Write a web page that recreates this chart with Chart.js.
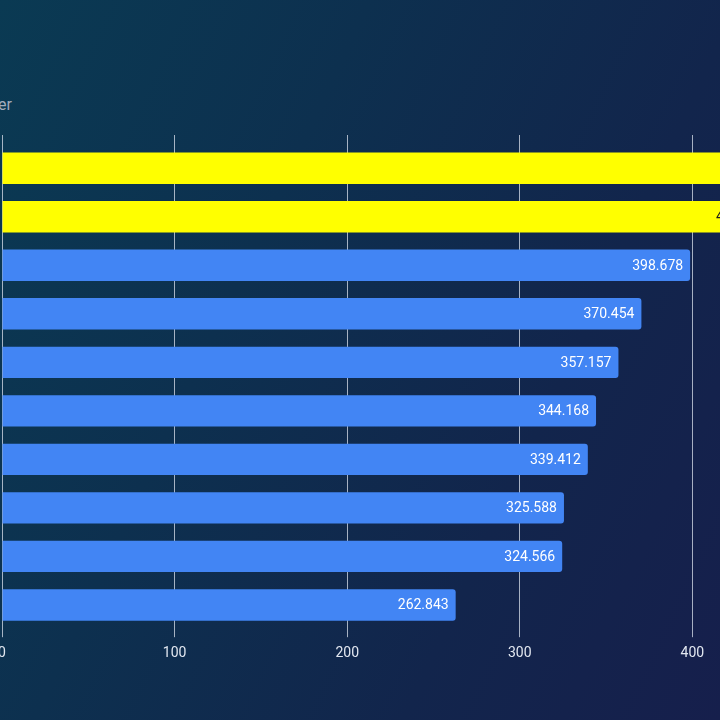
<!DOCTYPE html>
<html>
<head>
<meta charset="utf-8">
<script src="https://cdn.jsdelivr.net/npm/chart.js@4/dist/chart.umd.min.js"></script>
<style>
    html, body {
        margin: 0;
        width: 720px;
        height: 720px;
        overflow: hidden;
        background: linear-gradient(115deg, #0a3a53 0%, #0d304f 35%, #12254c 70%, #161f4c 100%);
        font-family: Roboto, "Noto Sans", sans-serif;
    }
    #subtitle {
        position: absolute;
        right: 708px;
        top: 95px;
        white-space: nowrap;
        color: #a3acbb;
        font-size: 16px;
    }
    #wrap {
        position: absolute;
        left: -20px;
        top: 0;
        width: 905px;
        height: 720px;
    }
</style>
</head>
<body>
<div id="subtitle">Higher is better</div>
<div id="wrap"><canvas id="barChart"></canvas></div>
<script>
// Data (category names sit off the visible crop)
const CATEGORIES = ['Item 1', 'Item 2', 'Item 3', 'Item 4', 'Item 5', 'Item 6', 'Item 7', 'Item 8', 'Item 9', 'Item 10'];
const SCORES = [468.5, 447.2, 398.678, 370.454, 357.157, 344.168, 339.412, 325.588, 324.566, 262.843];
const HIGHLIGHT = [true, true, false, false, false, false, false, false, false, false];
const X_TICKS = [0, 100, 200, 300, 400, 500];

const YELLOW = '#ffff00';
const BLUE = '#4285f4';
const GRID = 'rgba(205, 212, 225, 0.8)';

// Value labels drawn at the end of each bar
const valueLabels = {
    id: 'valueLabels',
    afterDatasetsDraw(chart) {
        const ctx = chart.ctx;
        const meta = chart.getDatasetMeta(0);
        ctx.save();
        ctx.font = '14px Roboto, "Noto Sans", sans-serif';
        ctx.textAlign = 'right';
        ctx.textBaseline = 'middle';
        meta.data.forEach((bar, i) => {
            ctx.fillStyle = HIGHLIGHT[i] ? '#1b1b1b' : '#ffffff';
            ctx.fillText(SCORES[i].toFixed(3), bar.x - 7, bar.y + 1);
        });
        ctx.restore();
    }
};

const ctx = document.getElementById('barChart').getContext('2d');

new Chart(ctx, {
    type: 'bar',
    data: {
        labels: CATEGORIES,
        datasets: [{
            data: SCORES,
            backgroundColor: HIGHLIGHT.map(h => h ? YELLOW : BLUE),
            borderRadius: 3,
            categoryPercentage: 1,
            barPercentage: 0.647
        }]
    },
    options: {
        indexAxis: 'y',
        responsive: true,
        maintainAspectRatio: false,
        animation: false,
        layout: {
            padding: { left: 22, right: 20, top: 135, bottom: 50 }
        },
        plugins: {
            legend: { display: false },
            tooltip: { enabled: false }
        },
        scales: {
            x: {
                position: 'bottom',
                min: 0,
                max: 500,
                afterBuildTicks: axis => { axis.ticks = X_TICKS.map(v => ({ value: v })); },
                grid: {
                    color: GRID,
                    lineWidth: 1,
                    tickLength: 8
                },
                border: { display: false },
                ticks: {
                    color: '#e2e7f0',
                    padding: 8,
                    font: { size: 14, family: 'Roboto' }
                }
            },
            xTop: {
                position: 'top',
                min: 0,
                max: 500,
                afterBuildTicks: axis => { axis.ticks = X_TICKS.map(v => ({ value: v })); },
                grid: {
                    color: GRID,
                    drawOnChartArea: false,
                    tickLength: 9
                },
                border: { display: false },
                ticks: { display: false }
            },
            y: {
                display: false
            }
        }
    },
    plugins: [valueLabels]
});
</script>
</body>
</html>
